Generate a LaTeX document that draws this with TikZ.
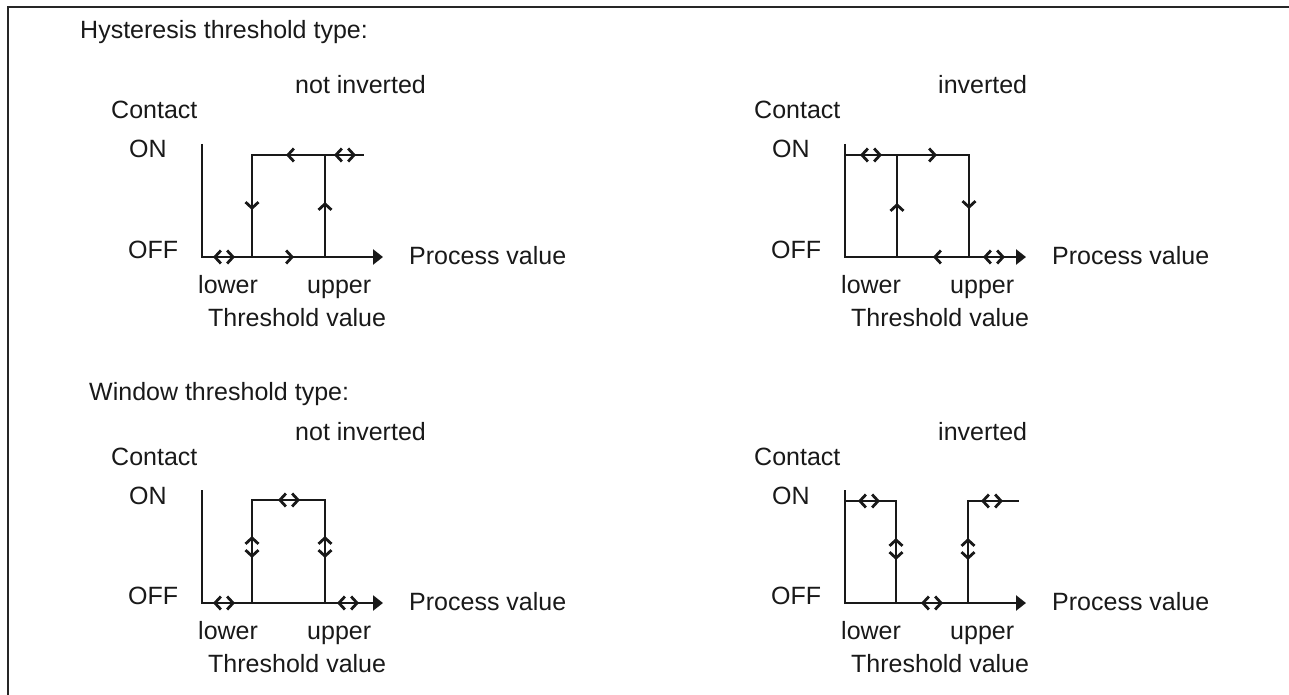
\documentclass[tikz,border=0pt]{standalone}
\usepackage{fontspec}
\setmainfont{Liberation Sans}
\usepackage{tikz}
\usetikzlibrary{arrows.meta, decorations.markings}
\tikzset{
  frame/.style = {line width=2pt, black!85},
  line/.style  = {line width=2.8pt, line cap=rect, black!90},
  axis/.style  = {line width=2.8pt, black!90, -{Triangle[length=10pt,width=15pt]}},
  fwd/.style   = {postaction={decorate, decoration={markings,
                    mark=at position #1 with {\arrow{Straight Barb[length=6pt,width=13pt]}}}}},
  dbl/.style   = {postaction={decorate, decoration={markings,
                    mark=at position #1 with {\draw[line width=2.8pt, line cap=butt,
                      {Straight Barb[length=6pt,width=13pt]}-{Straight Barb[length=6pt,width=13pt]}]
                      (-11pt,0) -- (11pt,0);}}}},
  lbl/.style   = {font=\fontsize{25}{30}\selectfont, text=black!90, inner sep=0pt, anchor=base west},
}

\begin{document}
\begin{tikzpicture}[x=1pt, y=-1pt]
  \useasboundingbox (0,0) rectangle (1289,695);
  \draw[frame] (8,695) -- (8,7) -- (1289,7);

  \node[lbl] (hyst) at (80,39)  {Hysteresis threshold type:};
  \node[lbl] (wind) at (89,400) {Window threshold type:};

  % labels shared by all four panels
  \foreach \p/\ox/\oy/\ttl in {a/202/257/not inverted, b/845/257/inverted,
                               c/202/603/not inverted, d/845/603/inverted} {
    \begin{scope}[shift={(\ox,\oy)}]
      \node[lbl] (\p-title)   at (93,-163)  {\ttl};
      \node[lbl] (\p-contact) at (-91,-138) {Contact};
      \node[lbl] (\p-on)      at (-73,-99)  {ON};
      \node[lbl] (\p-off)     at (-74,1)    {OFF};
      \node[lbl] (\p-proc)    at (207,7)    {Process value};
      \node[lbl] (\p-lower)   at (-4,36)    {lower};
      \node[lbl] (\p-upper)   at (105,36)   {upper};
      \node[lbl] (\p-thr)     at (6,69)     {Threshold value};
      \draw[axis] (0,-113) -- (0,0) -- (181,0);
    \end{scope}
  }

  % hysteresis, not inverted
  \begin{scope}[shift={(202,257)}]
    \draw[line, dbl=22pt] (0,0) -- (50,0);
    \draw[line, fwd=42pt] (50,0) -- (123,0);
    \draw[line, fwd=55pt] (50,-102) -- (50,0);
    \draw[line, fwd=55pt] (123,0) -- (123,-102);
    \draw[line, fwd=39pt] (123,-102) -- (50,-102);
    \draw[line, dbl=20pt] (123,-102) -- (161,-102);
  \end{scope}

  % hysteresis, inverted
  \begin{scope}[shift={(845,257)}]
    \draw[line, dbl=26pt] (0,-102) -- (52,-102);
    \draw[line, fwd=40pt] (52,-102) -- (124,-102);
    \draw[line, fwd=54pt] (52,0) -- (52,-102);
    \draw[line, fwd=54pt] (124,-102) -- (124,0);
    \draw[line, fwd=36pt] (124,0) -- (52,0);
    \draw[line, dbl=25pt] (124,0) -- (168,0);
  \end{scope}

  % window, not inverted
  \begin{scope}[shift={(202,603)}]
    \draw[line, dbl=22pt] (0,0) -- (50,0);
    \draw[line, dbl=56pt] (50,0) -- (50,-103);
    \draw[line, dbl=37pt] (50,-103) -- (123,-103);
    \draw[line, dbl=47pt] (123,-103) -- (123,0);
    \draw[line] (123,0) -- (50,0);
    \draw[line, dbl=23pt] (123,0) -- (168,0);
  \end{scope}

  % window, inverted
  \begin{scope}[shift={(845,603)}]
    \draw[line, dbl=24pt] (0,-102) -- (51,-102);
    \draw[line, dbl=48pt] (51,-102) -- (51,0);
    \draw[line, dbl=36pt] (51,0) -- (123,0);
    \draw[line, dbl=54pt] (123,0) -- (123,-102);
    \draw[line, dbl=24pt] (123,-102) -- (173,-102);
  \end{scope}
\end{tikzpicture}
\end{document}
